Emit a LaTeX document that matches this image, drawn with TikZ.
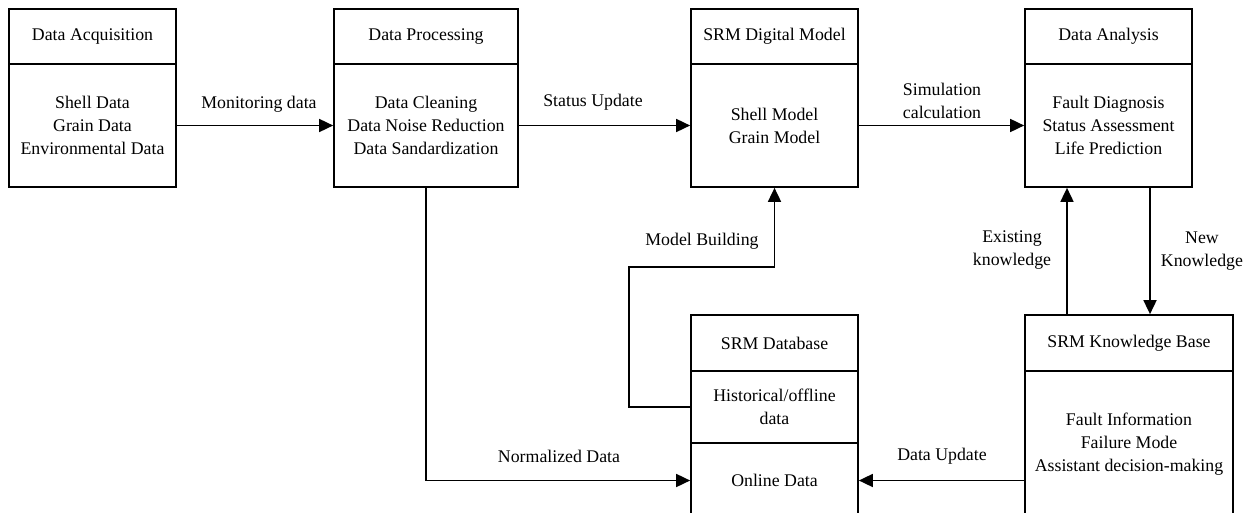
\documentclass[tikz,border=0pt]{standalone}
\usepackage{fontspec}
\setmainfont{Liberation Serif}
\usetikzlibrary{arrows.meta}
\begin{document}
\begin{tikzpicture}[x=1pt,y=-1pt,
  every node/.style={font=\fontsize{17.8}{23}\selectfont, align=center},
  box/.style={draw, line width=1.7pt, inner sep=0pt, rectangle},
  arr/.style={line width=1.7pt, -{Triangle[length=14pt,width=13pt]}},
  lbl/.style={inner sep=0pt}]
\useasboundingbox (0,0) rectangle (1246,513);
\clip (0,0) rectangle (1246,513);
% Data Acquisition
\node[box, minimum width=167pt, minimum height=55pt] (acqh) at (92.5,36.5) {Data Acquisition};
\node[box, minimum width=167pt, minimum height=123pt] (acqb) at (92.5,125.5) {Shell Data\\Grain Data\\Environmental Data};
% Data Processing
\node[box, minimum width=184pt, minimum height=55pt] (proch) at (426,36.5) {Data Processing};
\node[box, minimum width=184pt, minimum height=123pt] (procb) at (426,125.5) {Data Cleaning\\Data Noise Reduction\\Data Sandardization};
% SRM Digital Model
\node[box, minimum width=167pt, minimum height=55pt] (modh) at (774.5,36.5) {SRM Digital Model};
\node[box, minimum width=167pt, minimum height=123pt] (modb) at (774.5,125.5) {Shell Model\\Grain Model};
% Data Analysis
\node[box, minimum width=167pt, minimum height=55pt] (anah) at (1108.5,36.5) {Data Analysis};
\node[box, minimum width=167pt, minimum height=123pt] (anab) at (1108.5,125.5) {Fault Diagnosis\\Status Assessment\\Life Prediction};
% SRM Database
\node[box, minimum width=167pt, minimum height=56pt] (dbh) at (774.5,343) {SRM Database};
\node[box, minimum width=167pt, minimum height=72pt] (hist) at (774.5,407) {Historical/offline\\data};
\node[box, minimum width=167pt, minimum height=75pt] (online) at (774.5,480.5) {Online Data};
% SRM Knowledge Base
\node[box, minimum width=208pt, minimum height=56pt] (kbh) at (1129,343) {SRM Knowledge Base};
\node[box, minimum width=208pt, minimum height=147pt] (kbb) at (1129,444.5) {Fault Information\\Failure Mode\\Assistant decision-making};
% connectors
\draw[arr] (acqb.east) -- (procb.west);
\node[lbl] (l1) at (259,104) {Monitoring data};
\draw[arr] (procb.east) -- (modb.west);
\node[lbl] (l2) at (593,102) {Status Update};
\draw[arr] (modb.east) -- (anab.west);
\node[lbl] (l3) at (942,101) {Simulation\\calculation};
\coordinate (ek) at (1067,0);
\coordinate (nk) at (1150,0);
\draw[arr] (kbh.north -| ek) -- (anab.south -| ek);
\node[lbl] (l4) at (1012,250) {Existing\\knowledge};
\draw[arr] (anab.south -| nk) -- (kbh.north -| nk);
\node[lbl] (l5) at (1202,251) {New\\Knowledge};
\coordinate (mbturn) at (629,267);
\draw[arr] (hist.west) -| (mbturn) -| (modb.south);
\node[lbl] (l6) at (702,241) {Model Building};
\draw[arr] (procb.south) |- (online.west);
\node[lbl] (l7) at (559,456) {Normalized Data};
\draw[arr] (online.east -| kbb.west) -- (online.east);
\node[lbl] (l8) at (942,456) {Data Update};
\end{tikzpicture}
\end{document}
